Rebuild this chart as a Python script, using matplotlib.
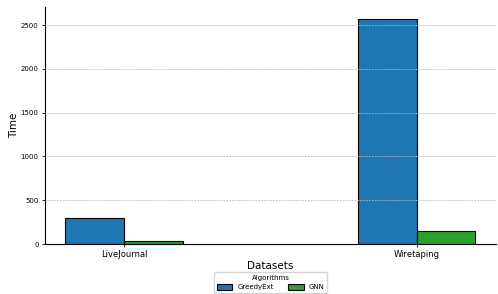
import matplotlib.pyplot as plt
import numpy as np

datasets = ["LiveJournal", "Wiretaping"]
algorithms = ["GreedyExt", "GNN"]
greedyext_time = [297, 2574]
gnn_time = [34, 154]

colors = {"GreedyExt": "#1f77b4", "GNN": "#2ca02c"}

X = np.arange(len(datasets))
width = 0.2

fig = plt.figure(figsize=(4.98, 2.94), dpi=100)
ax = fig.add_axes([0.090, 0.170, 0.906, 0.806])

ax.bar(X - width / 2, greedyext_time, width, color=colors["GreedyExt"],
       edgecolor="black", linewidth=0.8, label="GreedyExt")
ax.bar(X + width / 2, gnn_time, width, color=colors["GNN"],
       edgecolor="black", linewidth=0.8, label="GNN")

ax.set_xticks(X, datasets, fontsize=6)
ax.tick_params(axis="y", labelsize=5)
ax.tick_params(length=2.5, width=0.6, pad=2)
ax.set_xlabel("Datasets", fontsize=7.5, labelpad=1)
ax.set_ylabel("Time", fontsize=7.5, labelpad=1)
ax.set_ylim(0, 2705)

# dashed grid on top of the bars
ax.set_axisbelow(False)
ax.grid(axis="y", linestyle=(0, (2, 1.5)), color="#b8b8b8", linewidth=0.6)

ax.spines["top"].set_visible(False)
ax.spines["right"].set_visible(False)
ax.spines["left"].set_linewidth(0.8)
ax.spines["bottom"].set_linewidth(0.8)

ax.legend(title="Algorithms", loc="upper center", bbox_to_anchor=(0.5, -0.118),
          borderaxespad=0, ncol=2, fontsize=5, title_fontsize=5, frameon=True,
          handlelength=2.3, handleheight=0.8, handletextpad=0.7,
          columnspacing=2.0)

fig.savefig("out.png", dpi=100)
